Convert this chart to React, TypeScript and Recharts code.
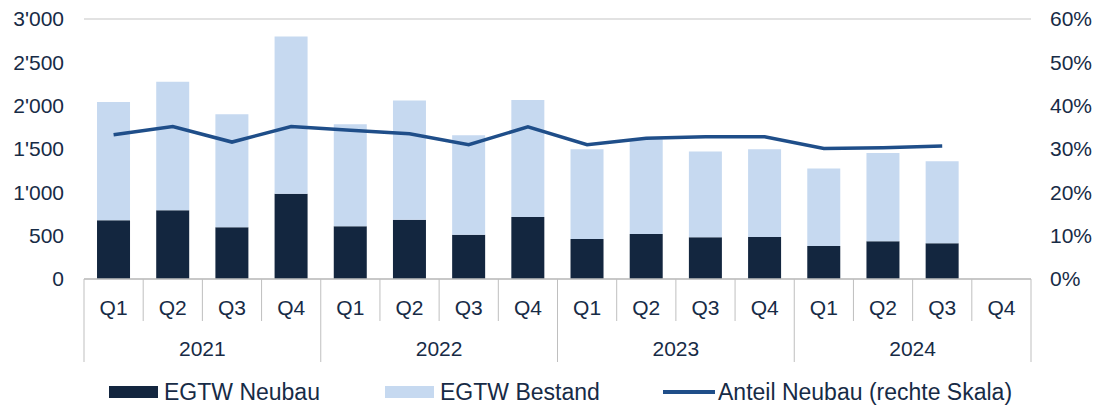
import React from "react";
import {
  Bar,
  CartesianGrid,
  ComposedChart,
  Legend,
  Line,
  XAxis,
  YAxis,
} from "recharts";

const years = ["2021", "2022", "2023", "2024"];
const quarters = ["Q1", "Q2", "Q3", "Q4"];

// EGTW Neubau, per quarter 2021 Q1 .. 2024 Q4
const neubau = [678, 793, 597, 985, 608, 685, 512, 716, 462, 520, 481, 485, 381, 435, 412, null];
// EGTW Bestand
const bestand = [1363, 1482, 1305, 1814, 1179, 1375, 1148, 1348, 1036, 1093, 990, 1013, 893, 1020, 947, null];
// Anteil Neubau in %
const anteil = [33.3, 35.2, 31.6, 35.2, 34.3, 33.5, 31.0, 35.1, 31.0, 32.5, 32.8, 32.8, 30.1, 30.3, 30.7, null];

const leftTicks = [0, 500, 1000, 1500, 2000, 2500, 3000];
const rightTicks = [0, 10, 20, 30, 40, 50, 60];

const data = neubau.map((n, i) => ({
  key: `${years[Math.floor(i / 4)]}-${quarters[i % 4]}`,
  year: years[Math.floor(i / 4)],
  quarter: quarters[i % 4],
  neubau: n,
  bestand: bestand[i],
  anteil: anteil[i],
}));

const TEXT = "#172b46";
const DARK = "#13263f";
const LIGHT = "#c6d9f0";
const LINE = "#1f4e89";
const AXIS = "#bfbfbf";
const FONT = "'Liberation Sans', Arial, sans-serif";

const fmtThousands = (v: number) =>
  String(v).replace(/\B(?=(\d{3})+(?!\d))/g, "'");

function QuarterTick(props: any) {
  const { x, y, payload } = props;
  const i = payload.index;
  const half = payload.offset || 29.6;
  const row = data[i];
  const shortEnd = y + 42;
  const longEnd = y + 83;
  return (
    <g>
      {i === 0 && (
        <line x1={x - half} x2={x - half} y1={y} y2={longEnd} stroke={AXIS} />
      )}
      <line
        x1={x + half}
        x2={x + half}
        y1={y}
        y2={(i + 1) % 4 === 0 ? longEnd : shortEnd}
        stroke={AXIS}
      />
      <text
        x={x}
        y={y + 28}
        textAnchor="middle"
        dominantBaseline="central"
        fill={TEXT}
        fontSize={21}
        fontFamily={FONT}
      >
        {row.quarter}
      </text>
      {i % 4 === 1 && (
        <text
          x={x + half}
          y={y + 69}
          textAnchor="middle"
          dominantBaseline="central"
          fill={TEXT}
          fontSize={21}
          fontFamily={FONT}
        >
          {row.year}
        </text>
      )}
    </g>
  );
}

const legendItems = [
  { label: "EGTW Neubau", color: DARK, kind: "bar", left: 109 },
  { label: "EGTW Bestand", color: LIGHT, kind: "bar", left: 385 },
  { label: "Anteil Neubau (rechte Skala)", color: LINE, kind: "line", left: 663 },
];

function LegendContent() {
  return (
    <div
      style={{
        position: "relative",
        height: 28,
        fontFamily: FONT,
        fontSize: 23,
        color: TEXT,
      }}
    >
      {legendItems.map((it) => (
        <div
          key={it.label}
          style={{
            position: "absolute",
            left: it.left,
            top: 0,
            height: 28,
            display: "flex",
            alignItems: "center",
            whiteSpace: "nowrap",
          }}
        >
          <span
            style={{
              display: "inline-block",
              width: it.kind === "bar" ? 49 : 52,
              height: it.kind === "bar" ? 12 : 4,
              background: it.color,
              marginRight: it.kind === "bar" ? 6 : 3,
            }}
          />
          <span>{it.label}</span>
        </div>
      ))}
    </div>
  );
}

export default function App() {
  return (
    <div style={{ position: "absolute", left: 0, top: 0, background: "#fff" }}>
      <ComposedChart
        width={1104}
        height={407}
        data={data}
        margin={{ top: 19, right: 0, bottom: 0, left: 0 }}
        barCategoryGap="22%"
      >
        <CartesianGrid vertical={false} stroke="#d9d9d9" strokeWidth={1.5} />
        <XAxis
          dataKey="key"
          xAxisId={0}
          height={100}
          interval={0}
          tickLine={false}
          tickSize={0}
          tickMargin={0}
          axisLine={{ stroke: AXIS, strokeWidth: 1.5 }}
          tick={<QuarterTick />}
        />
        <YAxis
          yAxisId="left"
          width={84}
          domain={[0, 3000]}
          ticks={leftTicks}
          tickFormatter={fmtThousands}
          axisLine={false}
          tickLine={false}
          tickSize={0}
          tickMargin={20}
          tick={{ fill: TEXT, fontSize: 21, fontFamily: FONT }}
        />
        <YAxis
          yAxisId="right"
          orientation="right"
          width={73}
          domain={[0, 60]}
          ticks={rightTicks}
          tickFormatter={(v: number) => `${v}%`}
          axisLine={false}
          tickLine={false}
          tickSize={0}
          tickMargin={19}
          tick={{ fill: TEXT, fontSize: 21, fontFamily: FONT, textAnchor: "start" }}
        />
        <Bar
          yAxisId="left"
          dataKey="neubau"
          stackId="a"
          fill={DARK}
          isAnimationActive={false}
        />
        <Bar
          yAxisId="left"
          dataKey="bestand"
          stackId="a"
          fill={LIGHT}
          isAnimationActive={false}
        />
        <Line
          yAxisId="right"
          dataKey="anteil"
          stroke={LINE}
          strokeWidth={3.5}
          dot={false}
          type="linear"
          isAnimationActive={false}
        />
        <Legend
          content={<LegendContent />}
          wrapperStyle={{ position: "absolute", left: 0, top: 378, width: 1104 }}
        />
      </ComposedChart>
    </div>
  );
}
